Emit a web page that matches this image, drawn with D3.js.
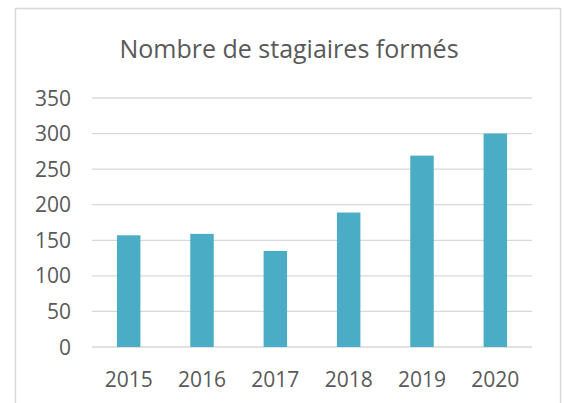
<!DOCTYPE html>
<html>
<head>
<meta charset="utf-8">
<script src="https://cdn.jsdelivr.net/npm/d3@7"></script>
<style>
  body { margin: 0; background: #fff; }
  text { font-family: "Open Sans", sans-serif; fill: #595959; }
</style>
</head>
<body>
<svg></svg>
<script>
const years = ['2015', '2016', '2017', '2018', '2019', '2020']
const trainees = [157, 159, 135, 189, 269, 300]
const yTicks = [0, 50, 100, 150, 200, 250, 300, 350]
const chartTitle = 'Nombre de stagiaires formés'

const width = 565, height = 403
const margin = {top: 98, right: 33, bottom: 56, left: 92}

const svg = d3.select('svg')
    .attr('width', width)
    .attr('height', height)

// chart area border
svg.append('rect')
    .attr('x', 15.5)
    .attr('y', 8.5)
    .attr('width', 545)
    .attr('height', 420)
    .attr('fill', 'none')
    .attr('stroke', '#d9d9d9')
    .attr('stroke-width', 1.5)

const x = d3.scaleBand()
    .domain(years)
    .range([margin.left, width - margin.right])
    .paddingInner(0.68)
    .paddingOuter(0.34)

const y = d3.scaleLinear()
    .domain([0, 350])
    .range([height - margin.bottom, margin.top])

// gridlines
svg.append('g')
    .selectAll('line')
    .data(yTicks)
    .join('line')
        .attr('x1', margin.left)
        .attr('x2', width - margin.right)
        .attr('y1', d => y(d))
        .attr('y2', d => y(d))
        .attr('stroke', '#d9d9d9')
        .attr('stroke-width', 1.3)

// y labels
svg.append('g')
    .selectAll('text')
    .data(yTicks)
    .join('text')
        .attr('x', margin.left - 21)
        .attr('y', d => y(d))
        .attr('dy', '0.36em')
        .attr('text-anchor', 'end')
        .style('font-size', '21px')
        .text(d => d)

// bars
svg.append('g')
    .selectAll('rect')
    .data(years.map((yr, i) => ({year: yr, value: trainees[i]})))
    .join('rect')
        .attr('x', d => x(d.year))
        .attr('y', d => y(d.value))
        .attr('width', x.bandwidth())
        .attr('height', d => y(0) - y(d.value))
        .attr('fill', '#4bacc6')

// x labels
svg.append('g')
    .selectAll('text')
    .data(years)
    .join('text')
        .attr('x', d => x(d) + x.bandwidth() / 2)
        .attr('y', y(0) + 40)
        .attr('text-anchor', 'middle')
        .style('font-size', '21px')
        .text(d => d)

svg.append('text')
    .attr('x', 289)
    .attr('y', 58)
    .attr('text-anchor', 'middle')
    .style('font-size', '25px')
    .text(chartTitle)
</script>
</body>
</html>
